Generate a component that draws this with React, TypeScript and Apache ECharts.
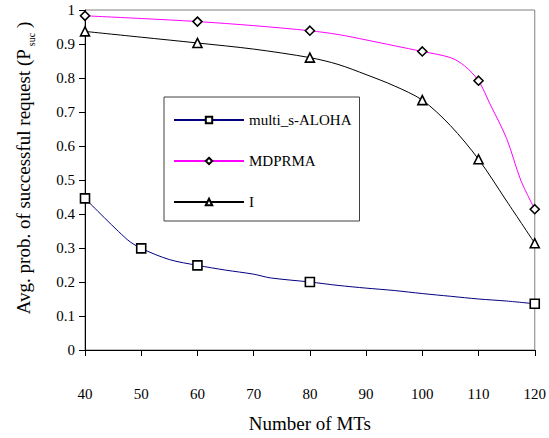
import React, { useEffect, useRef } from "react";
import * as echarts from "echarts";

const seriesNames = ["multi_s-ALOHA", "MDPRMA", "I"];

const alohaX = [40, 47.5, 50, 55, 60, 65, 70, 73, 80, 85, 90, 95, 100, 105, 110, 115, 120];
const alohaY = [0.446, 0.325, 0.299, 0.266, 0.249, 0.235, 0.223, 0.212, 0.2, 0.19, 0.182, 0.175, 0.166, 0.158, 0.15, 0.144, 0.136];
const alohaMarks = [40, 50, 60, 80, 120];

const mdprmaX = [40, 50, 60, 70, 80, 85, 90, 95, 100, 105, 107.5, 110, 112, 115, 117.5, 120];
const mdprmaY = [0.983, 0.975, 0.966, 0.954, 0.939, 0.928, 0.912, 0.895, 0.878, 0.86, 0.836, 0.792, 0.725, 0.622, 0.5, 0.414];
const mdprmaMarks = [40, 60, 80, 100, 110, 120];

const iX = [40, 50, 60, 70, 80, 85, 90, 95, 100, 105, 110, 115, 120];
const iY = [0.937, 0.92, 0.903, 0.885, 0.86, 0.84, 0.81, 0.777, 0.735, 0.66, 0.561, 0.438, 0.314];
const iMarks = [40, 60, 80, 100, 110, 120];

const xAxisName = "Number of MTs";
const yAxisName = "Avg. prob. of successful request (P";
const yAxisSub = "suc";

const FONT = "Liberation Serif";

function build(xs: number[], ys: number[], marks: number[]) {
  return xs.map((x, i) =>
    marks.includes(x) ? { value: [x, ys[i]] } : { value: [x, ys[i]], symbol: "none" }
  );
}

export default function App() {
  const ref = useRef<HTMLDivElement>(null);
  useEffect(() => {
    if (!ref.current) return;
    const chart = echarts.init(ref.current, undefined, { renderer: "svg" });
    const markerStyle = { color: "#ffffff", borderColor: "#000000", borderWidth: 1.6 };
    chart.setOption({
      animation: false,
      backgroundColor: "#ffffff",
      textStyle: { fontFamily: FONT },
      grid: {
        left: 85,
        right: 12,
        top: 10,
        bottom: 85,
        show: true,
        borderColor: "#808080",
        borderWidth: 1,
        backgroundColor: "transparent",
      },
      legend: {
        orient: "vertical",
        left: 164,
        top: 97,
        padding: [15, 8, 11, 9],
        itemWidth: 70,
        itemHeight: 8,
        itemGap: 25,
        borderColor: "#404040",
        borderWidth: 1,
        backgroundColor: "#ffffff",
        data: seriesNames,
        textStyle: { fontFamily: FONT, fontSize: 15, color: "#000", lineHeight: 16 },
      },
      xAxis: {
        type: "value",
        min: 40,
        max: 120,
        interval: 10,
        name: xAxisName,
        nameLocation: "middle",
        nameGap: 64,
        nameTextStyle: { fontFamily: FONT, fontSize: 19, color: "#000" },
        axisLine: { show: true, lineStyle: { color: "#000", width: 1 } },
        axisTick: { show: true, inside: false, length: 6, lineStyle: { color: "#000" } },
        axisLabel: { margin: 36, fontFamily: FONT, fontSize: 15, color: "#000" },
        splitLine: { show: false },
      },
      yAxis: {
        type: "value",
        min: 0,
        max: 1,
        interval: 0.1,
        axisLine: { show: true, lineStyle: { color: "#000", width: 1 } },
        axisTick: { show: true, inside: false, length: 6, lineStyle: { color: "#000" } },
        axisLabel: { margin: 10, fontFamily: FONT, fontSize: 15, color: "#000" },
        splitLine: { show: false },
      },
      graphic: [
        {
          type: "text",
          x: 23,
          y: 168,
          rotation: Math.PI / 2,
          style: {
            text: "{a|" + yAxisName + "}{s|" + yAxisSub + "}{a| )}",
            align: "center",
            verticalAlign: "middle",
            fill: "#000",
            rich: {
              a: { fontFamily: FONT, fontSize: 19, lineHeight: 26, fill: "#000", verticalAlign: "middle" },
              s: { fontFamily: FONT, fontSize: 10, lineHeight: 10, fill: "#000", verticalAlign: "bottom", padding: [0, 0, 0, 3] },
            },
          },
        },
      ],
      series: [
        {
          name: seriesNames[0],
          type: "line",
          data: build(alohaX, alohaY, alohaMarks),
          smooth: 0.3,
          symbol: "rect",
          symbolSize: 9,
          showAllSymbol: true,
          lineStyle: { color: "#000080", width: 1 },
          itemStyle: markerStyle,
          z: 3,
        },
        {
          name: seriesNames[1],
          type: "line",
          data: build(mdprmaX, mdprmaY, mdprmaMarks),
          smooth: 0.3,
          symbol: "diamond",
          symbolSize: 9,
          showAllSymbol: true,
          lineStyle: { color: "#ff00ff", width: 1 },
          itemStyle: markerStyle,
          z: 3,
        },
        {
          name: seriesNames[2],
          type: "line",
          data: build(iX, iY, iMarks),
          smooth: 0.3,
          symbol: "triangle",
          symbolSize: 9,
          showAllSymbol: true,
          lineStyle: { color: "#000000", width: 1 },
          itemStyle: markerStyle,
          z: 3,
        },
      ],
    });
    return () => chart.dispose();
  }, []);
  return (
    <div
      ref={ref}
      style={{ position: "fixed", left: 0, top: 0, width: 549, height: 438, background: "#fff" }}
    />
  );
}
